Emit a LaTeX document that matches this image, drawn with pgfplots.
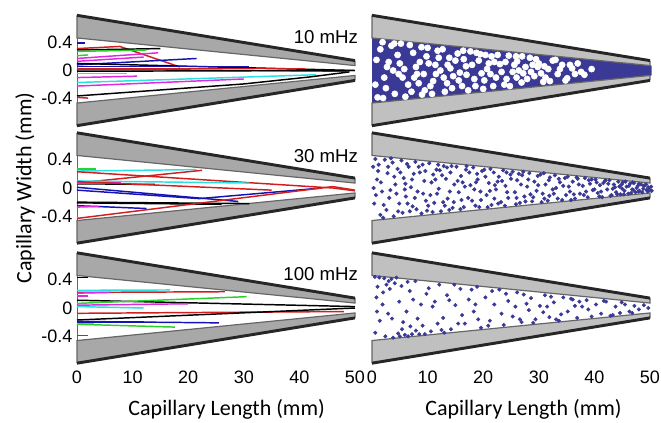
\documentclass[border=0pt]{standalone}
\usepackage{fontspec}
\setmainfont{Liberation Sans}
\newfontfamily\calibri{Carlito}
\usepackage{pgfplots}
\pgfplotsset{compat=1.18}
\definecolor{tb}{RGB}{20,20,180}
\definecolor{tr}{RGB}{210,30,30}
\definecolor{tg}{RGB}{40,210,40}
\definecolor{tm}{RGB}{225,40,225}
\definecolor{tc}{RGB}{40,225,225}
\definecolor{dotc}{RGB}{58,58,150}
\definecolor{wallL}{RGB}{168,168,168}
\definecolor{wallR}{RGB}{192,192,192}
\tikzset{freq/.style={anchor=east, font=\fontsize{14}{16}\selectfont}}
\pgfplotsset{
  panel/.style={scale only axis, width=208.5pt, height=87pt,
    xmin=0, xmax=50, ymin=-0.82, ymax=0.82,
    axis line style={draw=none}, tick style={draw=none},
    clip=false, xtick=\empty, ytick=\empty, anchor=south west,
    every tick label/.append style={font=\fontsize{13.5}{16}\selectfont}},
  leftp/.style={ytick={-0.4,0,0.4}, yticklabels={{-0.4},{0},{0.4}}},
  botp/.style={xtick={0,10,20,30,40,50}, xticklabels={0,10,20,30,40,50}},
  trk/.style={line width=1.1pt},
  dots/.style={only marks, mark=*, mark size=1.35pt, color=dotc, mark options={draw=none, fill=dotc}},
  holes/.style={only marks, mark=*, mark size=2.3pt, color=white, mark options={draw=none, fill=white}}
}
\newcommand{\walls}[1]{%
  \addplot[draw=none, fill=#1] coordinates {(0,0.46) (50,0.07) (50,0.14) (0,0.78)};
  \addplot[draw=none, fill=#1] coordinates {(0,-0.46) (50,-0.07) (50,-0.14) (0,-0.78)};
  \addplot[line width=0.9pt, draw=black!60] coordinates {(0,0.78) (0,0.46) (50,0.07) (50,0.14)};
  \addplot[line width=0.9pt, draw=black!60] coordinates {(0,-0.78) (0,-0.46) (50,-0.07) (50,-0.14)};
  \addplot[line width=2.2pt, draw=black!85] coordinates {(0,0.78) (50,0.14)};
  \addplot[line width=2.2pt, draw=black!85] coordinates {(0,-0.78) (50,-0.14)};
}
\begin{document}
\begin{tikzpicture}
\useasboundingbox (0,0) rectangle (495.75pt,-316.5pt);

% ---------- top left 10 mHz
\begin{axis}[panel, leftp, at={(57.75pt,-96.375pt)}]
\walls{wallL}
\addplot[line width=0.5pt, black!60] coordinates {(0,-0.46) (0,0.46)};
\addplot[trk, tb] coordinates {(0,0.39) (1.5,0.39)};
\addplot[trk, tr] coordinates {(0,0.31) (7.7,0.34) (18.5,0.05)};
\addplot[trk, black] coordinates {(0,0.29) (15,0.31)};
\addplot[trk, tg] coordinates {(0,0.27) (12.5,0.29)};
\addplot[trk, tg] coordinates {(0,0.21) (2.0,0.22)};
\addplot[trk, tm] coordinates {(0,0.17) (14.6,0.25)};
\addplot[trk, tm] coordinates {(0,0.13) (12,0.19)};
\addplot[trk, tb] coordinates {(0,0.08) (21.5,0.17)};
\addplot[trk, black] coordinates {(0,0.10) (50,0.0)};
\addplot[trk, tb] coordinates {(0,0.06) (31,0.06)};
\addplot[trk, tr] coordinates {(0,0.03) (41,0.03)};
\addplot[trk, tr] coordinates {(0,0.02) (48.5,-0.01)};
\addplot[trk, black] coordinates {(0,-0.01) (50,0.0)};
\addplot[trk, tc] coordinates {(0,-0.04) (9,-0.04)};
\addplot[trk, tm] coordinates {(0,-0.10) (10.8,-0.08)};
\addplot[trk, tc] coordinates {(0,-0.17) (43,-0.06)};
\addplot[trk, tm] coordinates {(0,-0.22) (30,-0.12)};
\addplot[trk, black] coordinates {(0,-0.36) (30,-0.19) (42,-0.09) (49,-0.02)};
\addplot[trk, tr] coordinates {(0,-0.38) (2,-0.39)};
\node[freq] at (axis cs:51.4,0.47) {10 mHz};
\end{axis}

% ---------- middle left 30 mHz
\begin{axis}[panel, leftp, at={(57.75pt,-184.5pt)}]
\walls{wallL}
\addplot[line width=0.5pt, black!60] coordinates {(0,-0.46) (0,0.46)};
\addplot[trk, tg] coordinates {(0,0.27) (3.5,0.27)};
\addplot[trk, tc] coordinates {(0,0.24) (21.5,0.26)};
\addplot[trk, tr] coordinates {(0,0.23) (46,0.0) (50,-0.04)};
\addplot[trk, tr] coordinates {(0,0.07) (22.5,0.25)};
\addplot[trk, tc] coordinates {(0,0.10) (31,0.07)};
\addplot[trk, black] coordinates {(0,0.06) (14,0.05)};
\addplot[trk, tm] coordinates {(0,0.07) (8,0.07)};
\addplot[trk, tr] coordinates {(0,0.09) (35,-0.03)};
\addplot[trk, tb] coordinates {(0,0.01) (29,-0.19)};
\addplot[trk, tb] coordinates {(0,-0.03) (22,-0.15) (44,0.0)};
\addplot[trk, black] coordinates {(0,-0.21) (26,-0.23)};
\addplot[trk, black] coordinates {(0,-0.20) (31,-0.22)};
\addplot[trk, tb] coordinates {(0,-0.25) (12.5,-0.29)};
\addplot[trk, tm] coordinates {(0,-0.27) (4,-0.26)};
\addplot[trk, tr] coordinates {(0,-0.43) (46,0.02) (50,-0.03)};
\addplot[trk, tg] coordinates {(0,-0.42) (0.6,-0.42)};
\node[freq] at (axis cs:51.4,0.45) {30 mHz};
\end{axis}

% ---------- bottom left 100 mHz
\begin{axis}[panel, leftp, botp, at={(57.75pt,-274.5pt)}]
\walls{wallL}
\addplot[line width=0.5pt, black!60] coordinates {(0,-0.46) (0,0.46)};
\addplot[trk, black] coordinates {(0,0.43) (2,0.43)};
\addplot[trk, tc] coordinates {(0,0.25) (16.7,0.255)};
\addplot[trk, tr] coordinates {(0,0.22) (26.6,0.23)};
\addplot[trk, tm] coordinates {(0,0.21) (6,0.22)};
\addplot[trk, tm] coordinates {(0,0.17) (2,0.17)};
\addplot[trk, black] coordinates {(0,0.11) (50,0.02)};
\addplot[trk, tg] coordinates {(0,0.065) (30.5,0.16)};
\addplot[trk, tm] coordinates {(0,0.04) (20,0.06)};
\addplot[trk, tc] coordinates {(0,0.02) (12,0.0)};
\addplot[trk, tr] coordinates {(0,-0.075) (48,-0.05)};
\addplot[trk, black] coordinates {(0,-0.17) (50,0.0)};
\addplot[trk, tb] coordinates {(0,-0.19) (25.5,-0.21)};
\addplot[line width=1.8pt, tb] coordinates {(0,-0.20) (12,-0.20)};
\addplot[trk, tc] coordinates {(0,-0.22) (3,-0.22)};
\addplot[trk, tg] coordinates {(0,-0.23) (17.6,-0.27)};
\addplot[trk, tr] coordinates {(0,-0.39) (2,-0.39)};
\node[freq] at (axis cs:51.4,0.48) {100 mHz};
\end{axis}

% ---------- top right
\begin{axis}[panel, at={(279pt,-96.375pt)}]
\addplot[draw=none, fill=dotc] coordinates {(0,0.46) (50.3,0.07) (50.3,-0.07) (0,-0.46)};
\addplot[holes] coordinates {
(1.5,0.30) (2.2,-0.10) (3.0,0.12) (4.1,-0.33) (5.2,0.38) (5.8,0.02) (6.5,-0.20) (7.4,0.25)
(8.1,-0.05) (8.9,0.33) (9.5,-0.28) (10.2,0.10) (11.0,-0.15) (11.8,0.28) (12.3,0.00) (13.1,-0.30)
(13.9,0.18) (14.6,-0.08) (15.4,0.24) (16.2,-0.22) (16.9,0.06) (17.7,0.27) (18.4,-0.12) (19.2,0.14)
(20.0,-0.26) (20.7,0.02) (21.5,0.20) (22.3,-0.10) (23.0,0.09) (23.8,-0.20) (24.6,0.21) (25.3,-0.02)
(26.1,0.13) (26.9,-0.17) (27.6,0.05) (28.4,0.18) (29.2,-0.08) (30.0,0.10) (30.8,-0.16) (31.7,0.02)
(32.5,0.14) (33.4,-0.05) (34.2,0.08) (35.1,-0.11) (36.0,0.03) (37.0,0.10) (38.2,-0.06) (39.5,0.02)
(3.5,0.35) (1.0,-0.38) (4.6,0.22) (6.0,-0.37) (7.9,0.05) (9.8,0.20) (10.8,-0.33) (12.7,0.30)
(14.1,0.03) (15.8,-0.03) (17.3,-0.28) (18.8,0.25) (20.4,0.22) (22.0,0.12) (24.2,-0.12) (25.9,0.20)
(27.2,-0.04) (28.9,0.08) (31.2,-0.10) (33.0,0.15) (34.8,-0.14) (36.5,-0.05) (2.7,0.05) (8.4,-0.18)
(19.7,-0.04) (29.8,0.05) (16.5,0.16) (11.4,0.08) (5.5,-0.10) (13.5,-0.18) (21.8,-0.22) (26.4,0.00)
(0.8,0.15) (1.9,0.40) (2.5,-0.25) (3.8,0.00) (4.8,-0.05) (5.0,0.10) (6.8,0.36) (7.1,-0.30)
(7.6,-0.10) (8.6,0.12) (9.3,-0.05) (10.0,0.32) (10.5,-0.22) (11.5,-0.05) (12.0,0.18) (12.9,-0.10)
(13.6,0.08) (14.4,-0.25) (15.0,0.14) (15.6,-0.14) (16.4,0.28) (17.0,-0.06) (18.0,0.08) (18.6,-0.22)
(19.5,0.23) (20.2,-0.14) (21.0,0.10) (21.3,-0.05) (22.6,0.22) (23.3,-0.02) (24.0,0.12) (24.8,-0.22)
(25.6,0.08) (26.0,-0.10) (27.0,0.20) (27.9,-0.12) (28.6,-0.02) (29.5,0.16) (30.4,-0.04) (31.0,0.06)
(32.0,-0.15) (33.8,0.02) (35.6,0.08) (37.6,-0.02) (0.6,-0.20) (2.0,-0.39) (4.0,0.38) (9.0,-0.34)};
\walls{wallR}
\end{axis}

% ---------- middle right
\begin{axis}[panel, at={(279pt,-184.5pt)}]
\walls{wallR}
\addplot[dots] coordinates {
(0.6,0.41) (1.2,0.33) (0.9,0.12) (1.8,-0.05) (0.4,-0.22) (1.5,-0.38) (2.3,0.40) (2.8,0.21)
(3.1,-0.14) (2.6,-0.31) (3.7,0.36) (4.2,0.05) (3.9,-0.40) (4.6,0.27) (4.9,-0.22) (0.3,0.0)
(1.1,0.24) (2.0,-0.42) (3.4,0.42) (4.4,-0.08)
(5.3,0.39) (5.7,0.14) (6.1,-0.12) (5.5,-0.35) (6.6,0.30) (7.0,0.01) (7.3,-0.26) (7.8,0.37)
(8.2,-0.05) (8.6,0.22) (8.9,-0.36) (9.4,0.10) (9.7,-0.18) (6.3,0.34) (7.5,0.20) (8.0,-0.30)
(9.1,0.33) (5.9,-0.02) (6.8,-0.33) (9.9,-0.32)
(10.3,0.35) (10.7,0.08) (11.2,-0.21) (11.6,0.26) (12.0,-0.01) (12.4,-0.33) (12.9,0.31) (13.3,0.13)
(13.6,-0.15) (14.1,0.22) (14.5,-0.28) (14.8,0.05) (10.9,-0.34) (11.9,0.33) (13.9,-0.31) (12.6,0.18)
(10.5,-0.10) (14.3,0.31) (11.4,0.12) (13.1,-0.25)
(15.2,0.30) (15.6,-0.06) (16.0,0.17) (16.5,-0.27) (16.9,0.26) (17.3,-0.14) (17.7,0.04) (18.2,0.29)
(18.6,-0.25) (19.0,0.12) (19.5,-0.05) (19.8,0.24) (15.9,-0.30) (17.0,0.31) (18.4,-0.02) (19.3,-0.27)
(16.3,0.08) (18.9,0.20)
(20.2,0.26) (20.6,-0.10) (21.0,0.07) (21.5,-0.24) (21.9,0.22) (22.3,-0.02) (22.8,0.16) (23.2,-0.20)
(23.6,0.25) (24.0,0.03) (24.5,-0.14) (24.9,0.19) (20.8,-0.27) (22.0,-0.15) (23.9,-0.25) (21.3,0.27)
(24.2,0.22) (22.6,0.09)
(25.3,0.23) (25.7,-0.06) (26.1,0.11) (26.6,-0.21) (27.0,0.18) (27.4,-0.12) (27.9,0.02) (28.3,0.21)
(28.8,-0.19) (29.2,0.09) (29.6,-0.04) (25.9,-0.23) (27.2,0.23) (28.5,-0.09) (29.8,0.17) (26.4,0.20)
(30.3,0.19) (30.7,-0.08) (31.2,0.05) (31.6,-0.18) (32.0,0.15) (32.5,-0.02) (32.9,0.18) (33.4,-0.15)
(33.8,0.08) (34.2,-0.17) (34.7,0.14) (30.9,0.21) (31.9,-0.11) (33.1,0.00) (34.4,0.03) (30.5,-0.20)
(35.2,0.16) (35.6,-0.05) (36.1,0.09) (36.5,-0.15) (37.0,0.13) (37.4,-0.08) (37.9,0.03) (38.3,0.14)
(38.8,-0.13) (39.2,0.06) (39.7,-0.03) (35.8,-0.17) (36.8,0.15) (38.1,-0.10) (39.5,0.12)
(40.2,0.12) (40.6,-0.07) (41.0,0.04) (41.4,-0.13) (41.9,0.10) (42.3,-0.02) (42.7,0.11) (43.1,-0.10)
(43.5,0.05) (43.9,-0.06) (44.3,0.09) (44.7,-0.09) (40.9,-0.12) (42.0,0.11) (43.3,-0.01) (44.5,0.02)
(41.6,0.07) (42.9,-0.11)
(45.1,0.08) (45.4,-0.04) (45.8,0.02) (46.1,-0.08) (46.4,0.06) (46.8,-0.02) (47.1,0.07) (47.4,-0.06)
(47.8,0.03) (48.1,-0.04) (48.4,0.05) (48.8,-0.01) (49.1,0.04) (49.4,-0.03) (49.7,0.01) (45.6,0.09)
(46.6,-0.07) (47.6,0.00) (48.6,-0.06) (49.9,-0.02) (45.3,-0.09) (46.9,0.08) (48.0,0.06) (49.3,0.05)
(0.2,0.30) (0.7,-0.10) (1.6,0.08) (2.1,-0.24) (2.9,0.30) (3.3,-0.03) (4.0,0.16) (4.7,-0.33)
(5.1,0.22) (6.0,0.06) (6.4,-0.22) (7.2,0.12) (7.7,-0.14) (8.4,0.30) (9.2,-0.08) (9.6,0.24)
(10.1,-0.25) (11.0,0.19) (11.7,-0.08) (12.2,0.25) (12.8,-0.20) (13.5,0.29) (14.0,-0.05) (14.7,-0.20)
(15.4,0.10) (16.1,-0.17) (16.7,0.02) (17.5,0.22) (18.0,-0.18) (18.7,0.08) (19.6,-0.17) (20.4,0.16)
(21.2,-0.04) (22.1,0.04) (22.7,-0.22) (23.4,0.10) (24.3,-0.06) (25.0,0.13) (26.0,-0.14) (26.8,0.05)
(27.6,-0.19) (28.1,0.12) (29.0,-0.13) (29.9,0.04) (31.0,-0.15) (31.8,0.11) (32.7,-0.08) (33.6,0.13)
(34.9,-0.10) (35.4,0.02) (36.3,-0.09) (37.2,0.05) (38.5,-0.05) (39.0,0.11) (40.0,-0.02) (40.4,0.08)
(41.2,-0.05) (42.5,0.06) (43.7,0.01) (44.1,-0.09) (44.9,0.05) (45.0,-0.01) (46.2,0.03) (47.0,-0.03)
(47.9,-0.05) (48.9,0.03) (49.6,-0.05) (50.2,0.02) (50.3,-0.04)};
\end{axis}

% ---------- bottom right
\begin{axis}[panel, botp, at={(279pt,-274.5pt)}]
\walls{wallR}
\addplot[dots, mark size=1.3pt] coordinates {
(0.5,0.44) (1.3,0.43) (2.2,0.42) (3.5,0.41) (4.4,0.43) (1.0,0.30) (2.6,0.33) (3.2,0.27)
(4.1,0.35) (5.3,0.31) (6.4,0.37) (7.8,0.38) (0.8,0.15) (1.9,0.05) (2.9,-0.08) (1.4,-0.18)
(3.6,-0.15) (0.6,-0.35) (2.4,-0.40) (3.8,-0.42) (4.7,-0.36) (5.4,-0.30) (5.9,-0.38) (6.5,-0.40)
(7.2,-0.37) (7.9,-0.32) (6.9,-0.26) (5.6,-0.20) (6.2,-0.05) (7.4,0.12) (8.5,-0.37) (9.1,-0.25)
(9.8,0.20) (10.6,-0.33) (11.3,0.09) (12.1,0.33) (12.8,-0.14) (13.5,0.18) (14.2,-0.30) (15.0,0.04)
(15.9,0.27) (16.7,-0.22) (17.4,0.12) (18.3,-0.05) (18.9,0.30) (19.6,-0.28) (20.4,0.15) (21.2,-0.18)
(22.0,0.05) (22.9,0.26) (23.7,-0.24) (24.5,0.10) (25.3,-0.12) (26.1,0.22) (26.9,-0.20) (27.8,0.06)
(28.6,0.14) (29.4,-0.16) (30.2,0.03) (31.1,0.18) (31.9,-0.13) (32.7,0.08) (33.6,-0.18) (34.4,0.15)
(35.2,-0.05) (36.1,0.12) (36.9,-0.14) (37.8,0.02) (38.6,0.11) (39.5,-0.12) (40.3,0.05) (41.2,-0.08)
(42.1,0.09) (42.9,-0.11) (43.8,0.02) (44.6,-0.07) (45.5,0.05) (46.3,-0.05) (47.2,0.03) (48.0,-0.02)
(48.9,0.04) (49.7,0.00) (8.8,0.05) (10.2,0.28) (11.8,-0.22) (13.0,-0.35) (14.8,0.33) (16.2,-0.10)
(17.9,0.26) (19.1,-0.16) (21.6,0.24) (23.3,-0.08) (25.8,0.02) (27.3,0.19) (29.0,-0.21) (30.8,-0.06)
(32.2,0.16) (34.0,-0.09) (35.8,0.13) (37.3,0.09) (38.9,-0.02) (41.7,0.10) (43.3,-0.10) (44.9,0.08)
(46.8,-0.07) (2.0,0.22) (4.9,0.09) (3.0,0.38) (0.9,-0.05) (5.0,-0.40) (6.8,0.24) (8.2,-0.15)
(9.5,-0.37) (10.9,0.02) (12.5,-0.31) (13.9,0.11) (15.5,-0.22) (18.6,0.05) (20.9,-0.25) (24.1,0.20)
(26.6,-0.16) (28.2,-0.03) (31.5,0.02) (33.1,-0.16) (36.5,0.03)};
\end{axis}

\node[rotate=90, font=\calibri\fontsize{16.5}{19}\selectfont] at (18.75pt,-141pt) {Capillary Width (mm)};
\node[font=\calibri\fontsize{16.5}{19}\selectfont] at (170pt,-307pt) {Capillary Length (mm)};
\node[font=\calibri\fontsize{16.5}{19}\selectfont] at (392.6pt,-307pt) {Capillary Length (mm)};
\end{tikzpicture}
\end{document}
